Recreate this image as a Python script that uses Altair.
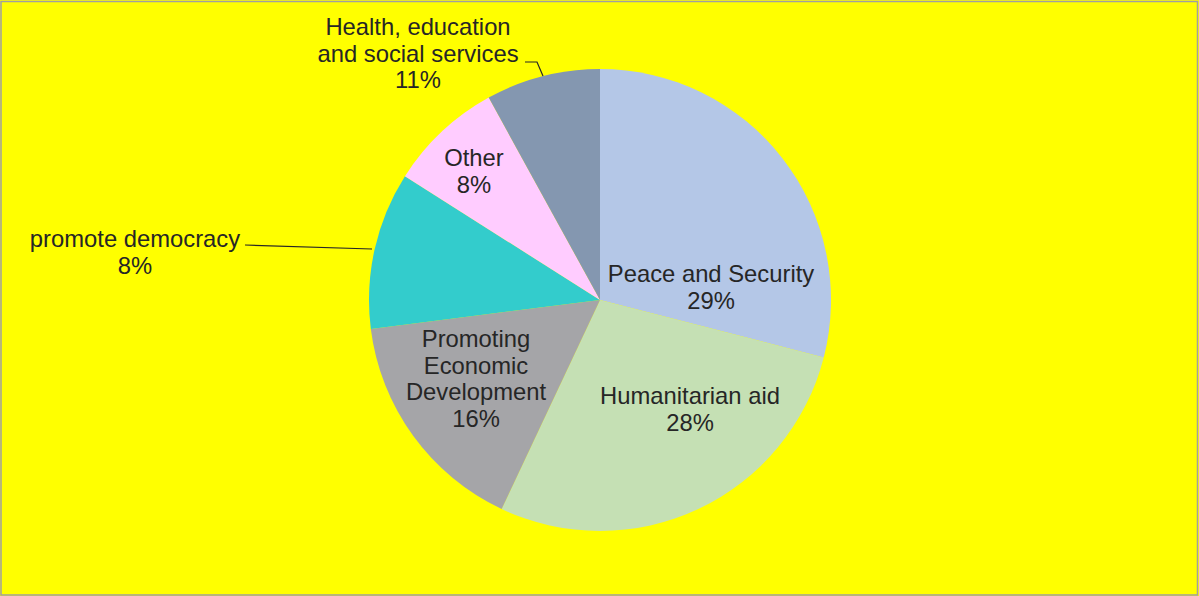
import altair as alt
import pandas as pd

# slice data (clockwise from 12 o'clock)
categories = ["Peace and Security", "Humanitarian aid", "Promoting Economic Development",
              "promote democracy", "Other", "Health, education and social services"]
values = [29, 28, 16, 11, 8, 8]
colors = ["#B4C7E7", "#C5E0B4", "#A5A5A8", "#33CCCC", "#FFCCFF", "#8497B0"]

# label texts as shown on the chart
label_texts = ["Peace and Security\n29%", "Humanitarian aid\n28%",
               "Promoting\nEconomic\nDevelopment\n16%", "promote democracy\n8%",
               "Other\n8%", "Health, education\nand social services\n11%"]

# label layout (pixel anchor of first-line baseline)
label_x = [711, 690, 476, 135, 474, 418]
label_y = [282, 404, 347, 247, 166, 35]

# leader lines layout
leader_id = ["h", "h", "h", "d", "d"]
leader_x = [525, 537, 543, 245, 372]
leader_y = [62, 62, 76, 245, 249]

FONT = "Liberation Sans"
TEXT_COLOR = "#262626"

pie_df = pd.DataFrame({"cat": categories, "value": values, "idx": range(len(values))})
lab_df = pd.DataFrame({"text": label_texts, "x": label_x, "y": label_y})
lead_df = pd.DataFrame({"id": leader_id, "x": leader_x, "y": leader_y, "o": range(len(leader_x))})

pie = alt.Chart(pie_df).mark_arc(outerRadius=231, stroke=None).encode(
    theta=alt.Theta("value:Q", stack=True),
    order=alt.Order("idx:Q"),
    color=alt.Color("cat:N", scale=alt.Scale(domain=categories, range=colors), legend=None),
    x=alt.value(600),
    y=alt.value(300),
)

labels = alt.Chart(lab_df).mark_text(
    font=FONT, fontSize=23.8, color=TEXT_COLOR, align="center", baseline="alphabetic",
    lineBreak="\n", lineHeight=26.5,
).encode(
    x=alt.X("x:Q", scale=None),
    y=alt.Y("y:Q", scale=None),
    text="text:N",
)

leaders = alt.Chart(lead_df).mark_line(color="#262626", strokeWidth=1.2).encode(
    x=alt.X("x:Q", scale=None),
    y=alt.Y("y:Q", scale=None),
    detail="id:N",
    order="o:Q",
)

border = alt.Chart(pd.DataFrame({"a": [0]})).mark_rect(
    fill=None, stroke="#A0A0A0", strokeWidth=1.5
).encode(x=alt.value(1), y=alt.value(1.5), x2=alt.value(1197.5), y2=alt.value(595))

chart = alt.layer(pie, leaders, labels, border).properties(
    width=1199, height=596, background="#FFFF00",
    autosize=alt.AutoSizeParams(type="none"), padding=0,
).configure_view(stroke=None)

chart.save("out.html", embed_options={"renderer": "svg", "actions": False})
